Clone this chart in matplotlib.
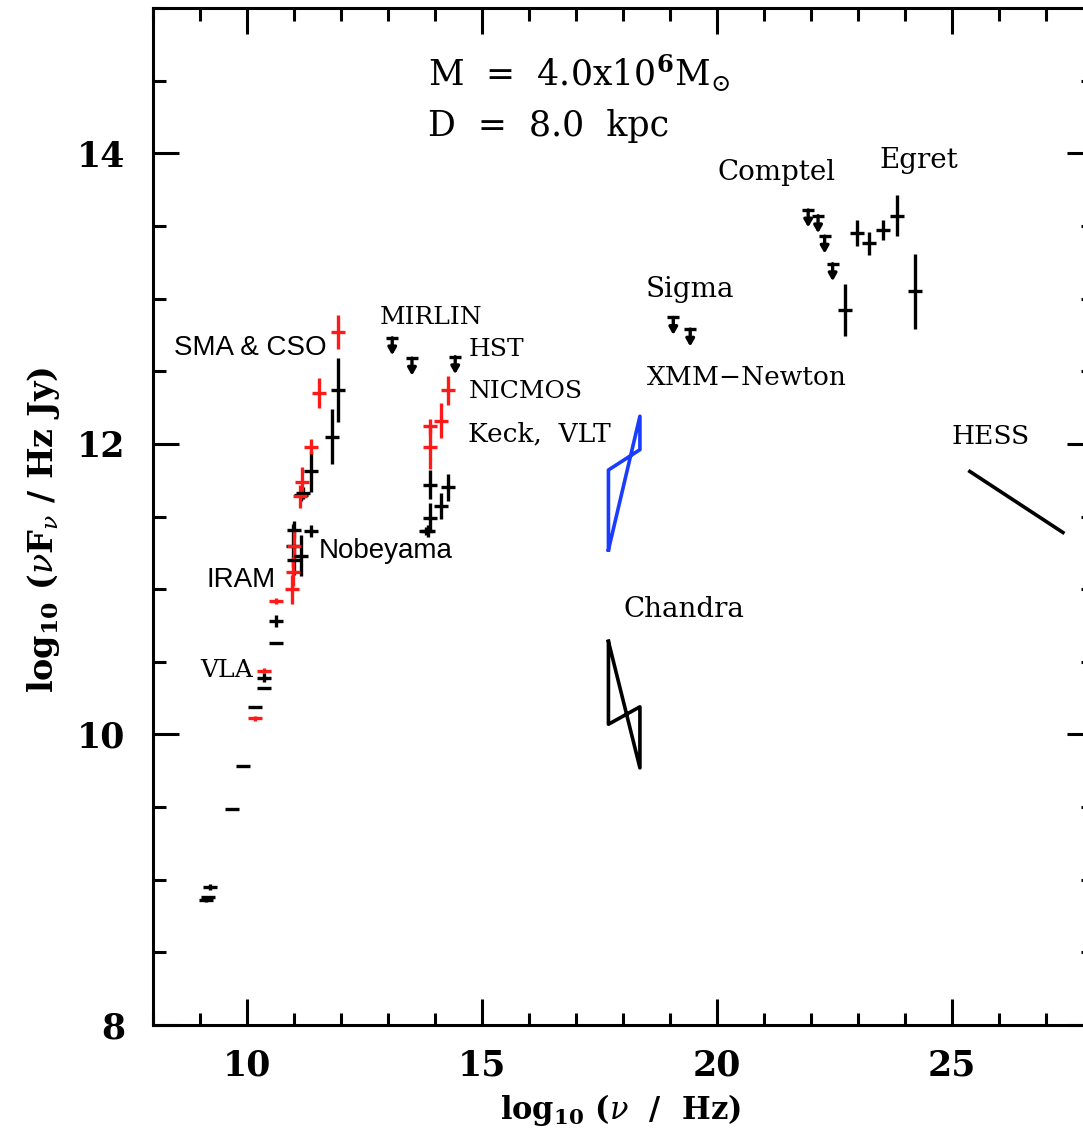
import matplotlib
matplotlib.use("Agg")
import matplotlib.pyplot as plt
from matplotlib.ticker import MultipleLocator

plt.rcParams['mathtext.fontset'] = 'dejavuserif'

# radio / submm / NIR detections (log nu, log nuFnu, error)
black_x = [9.12, 9.17, 9.21, 9.69, 9.92, 10.18, 10.36, 10.36, 10.62, 10.62,
           10.97, 10.99, 11.00, 11.14, 11.15, 11.20, 11.37, 11.37, 11.81, 11.94,
           13.80, 13.85, 13.89, 13.89, 14.13, 14.27]
black_y = [8.86, 8.88, 8.95, 9.49, 9.78, 10.19, 10.32, 10.39, 10.63, 10.78,
           11.30, 11.20, 11.41, 11.23, 11.65, 11.66, 11.40, 11.81, 12.05, 12.37,
           11.40, 11.40, 11.72, 11.49, 11.57, 11.70]
black_err = [0.01, 0.01, 0.02, 0.0, 0.0, 0.0, 0.0, 0.03, 0.0, 0.04,
             0.15, 0.10, 0.06, 0.14, 0.04, 0.04, 0.04, 0.14, 0.19, 0.22,
             0.03, 0.04, 0.10, 0.10, 0.09, 0.09]

red_x = [10.18, 10.36, 10.62, 10.96, 10.98, 11.00, 11.13, 11.18, 11.37, 11.54, 11.94,
         13.89, 13.89, 14.13, 14.27]
red_y = [10.11, 10.44, 10.92, 11.00, 11.12, 11.30, 11.64, 11.74, 11.98, 12.35, 12.77,
         11.98, 12.12, 12.16, 12.37]
red_err = [0.02, 0.02, 0.02, 0.10, 0.10, 0.10, 0.08, 0.10, 0.05, 0.10, 0.12,
           0.15, 0.05, 0.12, 0.10]

# upper limits: MIRLIN, HST, Sigma, Comptel
lim_x = [13.09, 13.51, 14.43, 19.07, 19.43, 21.94, 22.15, 22.29, 22.46]
lim_y = [12.73, 12.59, 12.60, 12.87, 12.79, 13.61, 13.57, 13.43, 13.24]
lim_len = 0.12

# Egret
egret_x = [22.72, 22.97, 23.24, 23.53, 23.83, 24.21]
egret_y = [12.92, 13.45, 13.38, 13.47, 13.57, 13.05]
egret_err = [0.18, 0.09, 0.08, 0.07, 0.14, 0.26]

# bow ties
chandra_x = [17.69, 18.36, 18.36, 17.69, 17.69]
chandra_y = [10.64, 9.77, 10.19, 10.07, 10.64]
xmm_x = [17.69, 18.36, 18.36, 17.69, 17.69]
xmm_y = [11.27, 12.19, 11.96, 11.82, 11.27]

# HESS power law
hess_x = [25.38, 27.36]
hess_y = [11.81, 11.39]

serif_labels = [("MIRLIN", 12.82, 12.87, 18), ("HST", 14.71, 12.65, 18),
                ("NICMOS", 14.71, 12.36, 18), ("Keck,  VLT", 14.71, 12.07, 19),
                ("Sigma", 18.49, 13.06, 20), ("XMM\u2212Newton", 18.51, 12.46, 19),
                ("Comptel", 20.0, 13.87, 20), ("Egret", 23.46, 13.95, 20),
                ("Chandra", 18.02, 10.86, 20), ("HESS", 24.99, 12.05, 19),
                ("VLA", 9.01, 10.44, 18)]
sans_labels = [("SMA & CSO", 8.44, 12.66), ("Nobeyama", 11.52, 11.26),
               ("IRAM", 9.14, 11.06)]

fig = plt.figure(figsize=(10.83, 11.39), dpi=100)
ax = fig.add_axes([153 / 1083, 114 / 1139, 940 / 1083, 1017 / 1139])

lw = 2.4
ax.errorbar(black_x, black_y, yerr=black_err, fmt='_', color='black',
            ms=10, mew=lw, elinewidth=lw, capsize=0)
ax.errorbar(red_x, red_y, yerr=red_err, fmt='_', color='#ff1a1a',
            ms=10, mew=lw, elinewidth=lw, capsize=0)
ax.errorbar(egret_x, egret_y, yerr=egret_err, fmt='_', color='black',
            ms=10, mew=lw, elinewidth=lw, capsize=0)

# upper limits: bar on top, stem, arrow head
ax.plot(lim_x, lim_y, '_', color='black', ms=9, mew=lw)
for lx, ly in zip(lim_x, lim_y):
    ax.annotate('', xy=(lx, ly - lim_len), xytext=(lx, ly),
                arrowprops=dict(arrowstyle='-|>,head_length=0.35,head_width=0.2',
                                color='black', lw=lw, mutation_scale=12,
                                shrinkA=0, shrinkB=0))

ax.plot(chandra_x, chandra_y, color='black', lw=2.6)
ax.plot(xmm_x, xmm_y, color='#1a3cff', lw=2.6)
ax.plot(hess_x, hess_y, color='black', lw=2.6)

for txt, tx, ty, fs in serif_labels:
    ax.text(tx, ty, txt, family='DejaVu Serif', fontsize=fs, ha='left', va='center')
for txt, tx, ty in sans_labels:
    ax.text(tx, ty, txt, family='Liberation Sans', fontsize=20, ha='left', va='center')

ax.text(13.86, 14.55, r'M  =  4.0x10$^{\mathbf{6}}$M$_{\odot}$', family='DejaVu Serif',
        fontsize=25, ha='left', va='center')
ax.text(13.86, 14.19, 'D  =  8.0  kpc', family='DejaVu Serif',
        fontsize=25, ha='left', va='center')

ax.set_xlim(8, 28)
ax.set_ylim(8, 15)
ax.xaxis.set_major_locator(MultipleLocator(5))
ax.xaxis.set_minor_locator(MultipleLocator(1))
ax.yaxis.set_major_locator(MultipleLocator(2))
ax.yaxis.set_minor_locator(MultipleLocator(0.5))
ax.tick_params(which='both', direction='in', top=True, right=True, width=2.2)
ax.tick_params(which='major', length=19)
ax.tick_params(which='minor', length=9)
ax.tick_params(axis='x', pad=17)
ax.tick_params(axis='y', pad=20)
for lab in ax.get_xticklabels() + ax.get_yticklabels():
    lab.set_family('DejaVu Serif')
    lab.set_fontweight('bold')
    lab.set_fontsize(25)
for sp in ax.spines.values():
    sp.set_linewidth(2.2)

ax.set_xlabel(r'log$_{\mathbf{10}}$ ($\nu$  /  Hz)', family='DejaVu Serif',
              fontweight='bold', fontsize=22)
ax.set_ylabel(r'log$_{\mathbf{10}}$ ($\nu$F$_{\nu}$ / Hz Jy)', family='DejaVu Serif',
              fontweight='bold', fontsize=24)
ax.xaxis.set_label_coords(0.497, -0.066)
ax.yaxis.set_label_coords(-0.097, 0.487)

fig.savefig('out.png', dpi=100)
